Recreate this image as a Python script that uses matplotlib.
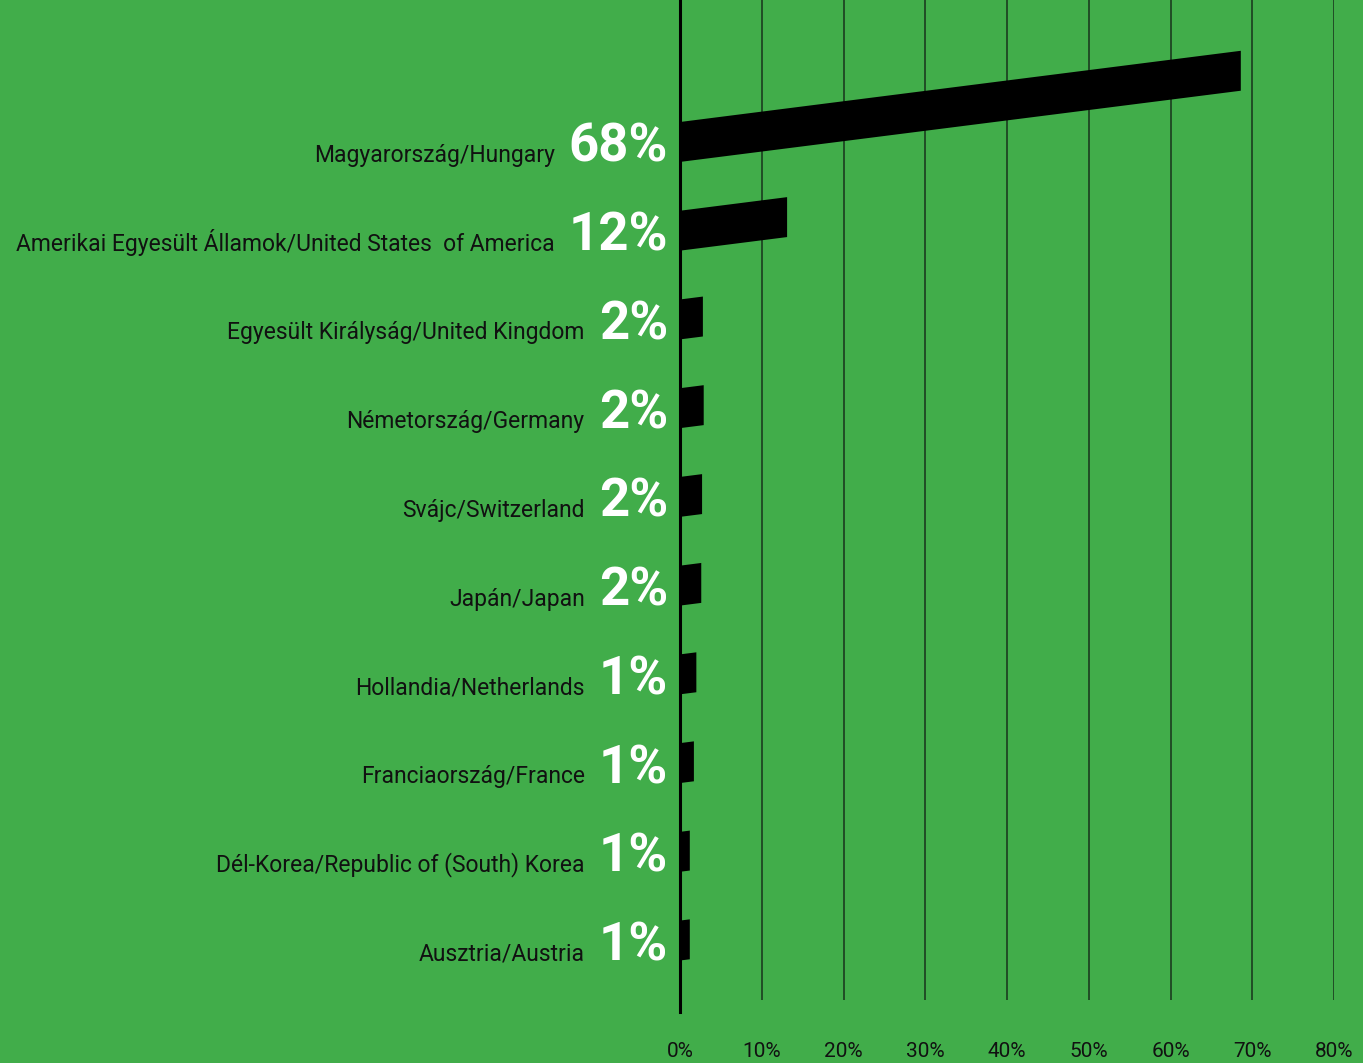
import matplotlib
matplotlib.use("Agg")
from matplotlib import pyplot as plt
from matplotlib.patches import Polygon

countries = [
    "Magyarország/Hungary",
    "Amerikai Egyesült Államok/United States  of America",
    "Egyesült Királyság/United Kingdom",
    "Németország/Germany",
    "Svájc/Switzerland",
    "Japán/Japan",
    "Hollandia/Netherlands",
    "Franciaország/France",
    "Dél-Korea/Republic of (South) Korea",
    "Ausztria/Austria",
]
shares = [68.6, 13.1, 2.8, 2.9, 2.7, 2.6, 2.0, 1.7, 1.2, 1.2]
share_labels = ["68%", "12%", "2%", "2%", "2%", "2%", "1%", "1%", "1%", "1%"]
ticks = [0, 10, 20, 30, 40, 50, 60, 70, 80]

green = "#41ad4a"
font = ["Roboto", "DejaVu Sans"]
bar_h = 0.45
skew = 0.0117  # rise of the bar (in category units) per percent

fig = plt.figure(figsize=(13.63, 10.63), dpi=100, facecolor=green)
ax = fig.add_axes([680 / 1363, 1 - 1000 / 1063, (1334 - 680) / 1363, 1000 / 1063])
ax.set_facecolor(green)
ax.set_xlim(0, 80)
ax.set_ylim(9.67, -1.60)

for i, v in enumerate(shares):
    pts = [(0, i - bar_h / 2), (v, i - bar_h / 2 - skew * v),
           (v, i + bar_h / 2 - skew * v), (0, i + bar_h / 2)]
    ax.add_patch(Polygon(pts, closed=True, facecolor="black", edgecolor="none", zorder=3))

for x in ticks[1:]:
    ax.axvline(x, color="#1b3d1f", lw=1.2, zorder=1)
ax.axvline(0, ymin=-0.012, ymax=1, color="black", lw=2.2, clip_on=False, zorder=4)

for s in ax.spines.values():
    s.set_visible(False)
ax.set_yticks([])
ax.set_xticks(ticks)
ax.set_xticklabels([f"{t}%" for t in ticks], family=font, fontstretch="condensed",
                   fontsize=15, color="#111111")
ax.tick_params(axis="x", length=0, pad=30)
for lab in ax.get_xticklabels():
    lab.set_x(lab.get_position()[0])

pct_texts = []
for i, lab in enumerate(share_labels):
    t = ax.annotate(lab, xy=(0, i + bar_h / 2), xytext=(-12, 0), textcoords="offset pixels",
                    ha="right", va="baseline", fontsize=38, fontweight="bold", color="white",
                    family=font, fontstretch="condensed")
    pct_texts.append(t)

fig.canvas.draw()
r = fig.canvas.get_renderer()

# shrink the label size until the longest name fits the space on the left
size = 19
longest = max(countries, key=len)
while size > 8:
    probe = fig.text(0, 0, longest, fontsize=size, family=font, fontstretch="condensed")
    w = probe.get_window_extent(r).width
    probe.remove()
    if w <= 545:
        break
    size -= 0.5

for i, name in enumerate(countries):
    w = pct_texts[i].get_window_extent(r).width
    ax.annotate(name, xy=(0, i + bar_h / 2), xytext=(-12 - w - 14, 0), textcoords="offset pixels",
                ha="right", va="baseline", fontsize=size, color="#111111",
                family=font, fontstretch="condensed")

fig.savefig("out.png", dpi=100, facecolor=green)
